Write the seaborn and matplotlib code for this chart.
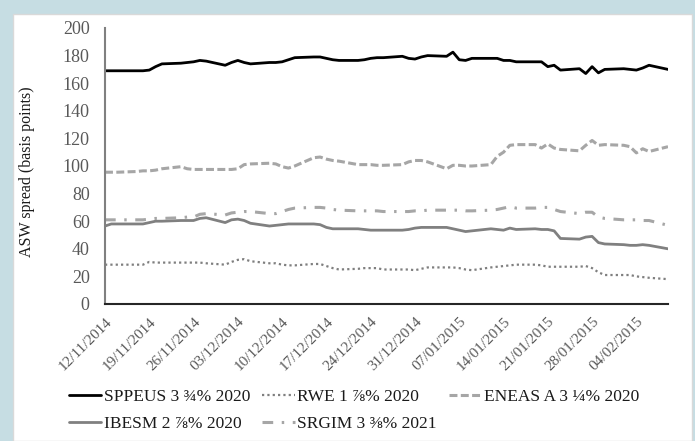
import pandas as pd
import numpy as np
import matplotlib
matplotlib.use("Agg")
import matplotlib.pyplot as plt
import matplotlib.dates as mdates
from matplotlib.patches import Rectangle
import seaborn as sns

# business days shown on the chart
dates = pd.bdate_range("2014-11-12", "2015-02-09")
tick_dates = pd.date_range("2014-11-12", "2015-02-04", freq="7D")

sppeus = [169, 169, 169,
          169, 169, 169.5, 172, 174,
          174.5, 175, 175.5, 176.5, 176,
          173, 175, 176.5, 175, 174,
          175, 175, 175.5, 177, 178.5,
          179, 179, 178, 177, 176.5,
          176.5, 177, 178, 178.5, 178.5,
          179.5, 178, 177.5, 179, 180,
          179.5, 182.5, 177, 176.5, 178,
          178, 178, 176.5, 176.5, 175.5,
          175.5, 175.5, 172, 173, 169.5,
          170.5, 167, 172, 167.5, 170,
          170.5, 170, 169.5, 171, 173,
          170]
rwe = [28.5, 28.5, 28.5,
       28.5, 28.5, 30.5, 30, 30,
       30, 30, 30, 30, 29.5,
       28.5, 30.5, 32, 32.5, 31,
       29.5, 29.5, 28.5, 28, 28,
       29, 29, 27.5, 26, 25,
       25.5, 26, 26, 26, 25,
       25, 25, 24.5, 25.5, 26.5,
       26.5, 26.5, 26, 25, 24.5,
       26.5, 27, 27.5, 28, 28.5,
       28.5, 28, 27, 27, 27,
       27, 27.5, 26, 23, 21,
       21, 21, 20, 19.5, 19,
       18]
eneas = [95.5, 95.5, 95.5,
         96, 96.5, 96.5, 97, 98,
         99.5, 98, 97.5, 97.5, 97.5,
         97.5, 97.5, 98, 101, 101.5,
         102, 101.5, 99.5, 98.5, 100,
         106, 106.5, 105, 104, 103.5,
         101, 101, 101, 100.5, 100.5,
         101, 103, 104, 104, 103,
         98, 100.5, 100.5, 100, 100,
         101, 107, 110, 115, 115.5,
         115.5, 113, 116, 113, 112,
         111, 115, 118.5, 115, 115.5,
         115, 114, 109.5, 112.5, 110.5,
         114]
ibesm = [56.5, 58, 58,
         58, 58, 59, 60, 60,
         60.5, 60.5, 60.5, 62, 62.5,
         59, 61, 61.5, 60.5, 58.5,
         56.5, 57, 57.5, 58, 58,
         58, 57.5, 55.5, 54.5, 54.5,
         54.5, 54, 53.5, 53.5, 53.5,
         53.5, 54, 55, 55.5, 55.5,
         55.5, 54.5, 53.5, 52.5, 53,
         54.5, 54, 53.5, 55, 54,
         54.5, 54, 54, 53, 47.5,
         47, 48.5, 49, 44.5, 43.5,
         43, 42.5, 42.5, 43, 42.5,
         40]
srgim = [61, 61, 61,
         61, 61, 61.5, 62, 62,
         62.5, 63, 63, 65, 65.5,
         64.5, 66, 66.5, 67, 67,
         65.5, 65.5, 67, 68.5, 69.5,
         70, 70, 69.5, 68.5, 68,
         67.5, 67.5, 67.5, 67.5, 67,
         67, 67, 67.5, 67.5, 68,
         68, 68, 68, 67.5, 67.5,
         68, 68.5, 69.5, 70.5, 69.5,
         69.5, 70, 70, 68.5, 67,
         65.5, 66.5, 66.5, 63, 62,
         61, 61, 61, 60.5, 60.5,
         57]

labels = ["SPPEUS 3 ¾% 2020", "RWE 1 ⅞% 2020", "ENEAS A 3 ¼% 2020",
          "IBESM 2 ⅞% 2020", "SRGIM 3 ⅜% 2021"]

sns.set_theme(style="white")
plt.rcParams["font.family"] = ["Liberation Serif", "DejaVu Serif"]

fig = plt.figure(figsize=(6.95, 4.41), dpi=100, facecolor="#c6dde3")
fig.patches.append(Rectangle((13 / 695, 0), 679 / 695, 427 / 441,
                             transform=fig.transFigure, facecolor="white",
                             edgecolor="#d9d9d9", lw=1, zorder=-1))
ax = fig.add_axes([105 / 695, 1 - 304 / 441, 563 / 695, 276 / 441])
ax.set_facecolor("white")

styles = [
    (sppeus, "#000000", 2.0, "-"),
    (rwe, "#7f7f7f", 1.6, (0, (1, 1.4))),
    (eneas, "#a6a6a6", 2.2, (0, (2.6, 1.1))),
    (ibesm, "#808080", 2.0, "-"),
    (srgim, "#a6a6a6", 2.2, (0, (3.5, 2.8, 0.8, 2.8))),
]
for (vals, col, lw, ls), lab in zip(styles, labels):
    sns.lineplot(x=dates, y=vals, ax=ax, color=col, linewidth=lw,
                 linestyle=ls, label=lab)

ax.set_xlim(dates[0], dates[-1])
ax.set_ylim(0, 200)
ax.set_yticks(range(0, 201, 20))
ax.set_xticks(tick_dates)
ax.xaxis.set_major_formatter(mdates.DateFormatter("%d/%m/%Y"))
ax.tick_params(axis="y", length=0, pad=11, labelsize=13, labelcolor="#595959")
ax.tick_params(axis="x", length=0, pad=8, labelsize=11, labelcolor="#595959")
for t in ax.get_xticklabels():
    t.set_rotation(45)
    t.set_ha("right")
    t.set_rotation_mode("anchor")

ax.set_xlabel("")
ax.set_ylabel("ASW spread (basis points)", fontsize=11.5, color="#1a1a1a")
ax.yaxis.set_label_coords(-(105 - 35) / 563, 0.48)

for s in ["top", "right"]:
    ax.spines[s].set_visible(False)
ax.spines["left"].set_color("#808080")
ax.spines["left"].set_linewidth(1.5)
ax.spines["bottom"].set_color("#262626")
ax.spines["bottom"].set_linewidth(1.5)

# legend reads row by row in the reference, matplotlib fills by column
ax.legend_.remove()
handles, labs = ax.get_legend_handles_labels()
order = [0, 3, 1, 4, 2]
fig.legend([handles[i] for i in order], [labs[i] for i in order],
           ncol=3, loc="upper center",
           bbox_to_anchor=(354 / 695, 1 - 389 / 441), frameon=False,
           fontsize=12.5, handlelength=1.85, handletextpad=0.15,
           columnspacing=0.7, labelspacing=0.6, labelcolor="#1a1a1a",
           borderaxespad=0, borderpad=0)

fig.savefig("out.png", dpi=100, facecolor=fig.get_facecolor())
